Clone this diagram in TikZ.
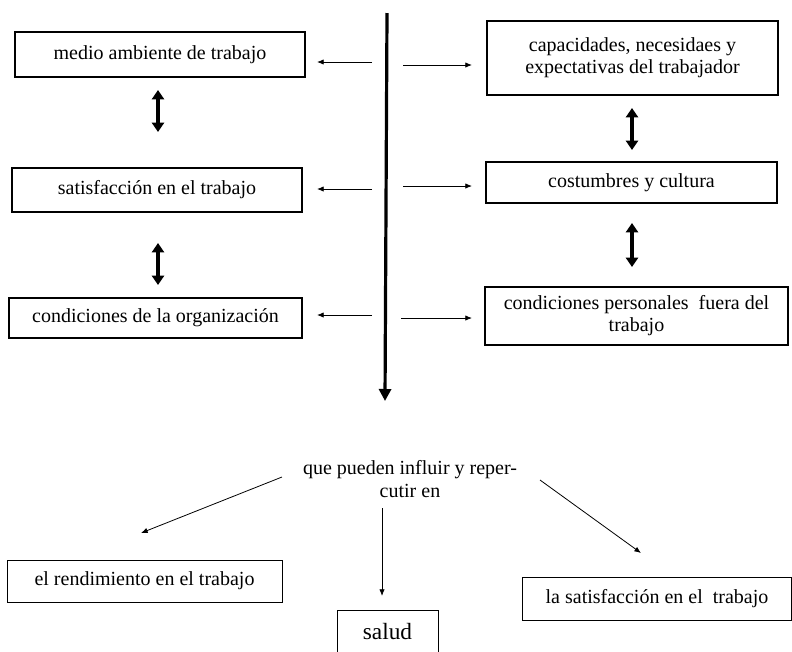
\documentclass[tikz,border=0pt]{standalone}
\usepackage{fontspec}
\setmainfont{Liberation Serif}
\usetikzlibrary{arrows.meta}
\begin{document}
\begin{tikzpicture}[x=0.75pt,y=-0.75pt,
  thickbox/.style={draw, line width=1.8pt, inner sep=0pt, align=center, font=\fontsize{15}{16.5}\selectfont},
  thinbox/.style={draw, line width=0.7pt, inner sep=0pt, align=center, font=\fontsize{15}{16.5}\selectfont},
  smallarrow/.style={line width=0.6pt, -{Latex[length=5pt,width=4pt]}},
  dblarrow/.style={line width=3pt, {Triangle[length=7pt,width=9pt]}-{Triangle[length=7pt,width=9pt]}},
  mainarrow/.style={line width=2.4pt, -{Triangle[length=9pt,width=9pt]}},
  plaintext/.style={align=center, inner sep=0pt, font=\fontsize{15}{17}\selectfont}]
\useasboundingbox (0,0) rectangle (792,651);
% left boxes
\node[thickbox, minimum width=217.5pt, minimum height=33.75pt] (L1) at (160,54.5) {medio ambiente de trabajo};
\node[thickbox, minimum width=217.5pt, minimum height=33pt] (L2) at (157,190) {satisfacción en el trabajo};
\node[thickbox, minimum width=219.75pt, minimum height=30pt] (L3) at (155.5,318) {condiciones de la organización};
% right boxes
\node[thickbox, minimum width=218.25pt, minimum height=55.5pt] (R1) at (632.5,58) {capacidades, necesidaes y\\expectativas del trabajador};
\node[thickbox, minimum width=218.25pt, minimum height=30.75pt] (R2) at (631.5,182.5) {costumbres y cultura};
\node[thickbox, minimum width=227.25pt, minimum height=43.5pt] (R3) at (636.5,316) {condiciones personales\ \ fuera del\\trabajo};
% double arrows
\coordinate (a1) at (158,90); \coordinate (a2) at (158,132);
\coordinate (a3) at (158,243); \coordinate (a4) at (158,285);
\coordinate (b1) at (632,108); \coordinate (b2) at (632,150);
\coordinate (b3) at (632,223); \coordinate (b4) at (632,267);
\draw[dblarrow] (a1) -- (a2);
\draw[dblarrow] (a3) -- (a4);
\draw[dblarrow] (b1) -- (b2);
\draw[dblarrow] (b3) -- (b4);
% main vertical line
\coordinate (top) at (387,13);
\coordinate (bot) at (385,401);
\draw[mainarrow] (top) -- (bot);
% small horizontal arrows
\coordinate (l1s) at (372,62); \coordinate (l1e) at (317,62);
\coordinate (l2s) at (372,189); \coordinate (l2e) at (317,189);
\coordinate (l3s) at (372,315); \coordinate (l3e) at (317,315);
\coordinate (r1s) at (403,65); \coordinate (r1e) at (472,65);
\coordinate (r2s) at (403,186); \coordinate (r2e) at (472,186);
\coordinate (r3s) at (401,318); \coordinate (r3e) at (472,318);
\draw[smallarrow] (l1s) -- (l1e);
\draw[smallarrow] (l2s) -- (l2e);
\draw[smallarrow] (l3s) -- (l3e);
\draw[smallarrow] (r1s) -- (r1e);
\draw[smallarrow] (r2s) -- (r2e);
\draw[smallarrow] (r3s) -- (r3e);
% bottom part
\node[plaintext] (T) at (410,479) {que pueden influir y reper-\\cutir en};
\node[thinbox, minimum width=206.25pt, minimum height=31.5pt] (B1) at (144.5,581) {el rendimiento en el trabajo};
\node[thinbox, minimum width=75.75pt, minimum height=31.5pt, font=\fontsize{17.5}{19}\selectfont] (B2) at (387.5,631.5) {salud};
\node[thinbox, minimum width=201.75pt, minimum height=32.25pt] (B3) at (657,598.5) {la satisfacción en el\ \ trabajo};
\coordinate (c1s) at (282,477); \coordinate (c1e) at (141,533);
\coordinate (c2s) at (382,508); \coordinate (c2e) at (382,596);
\coordinate (c3s) at (540,480); \coordinate (c3e) at (641,553);
\draw[smallarrow] (c1s) -- (c1e);
\draw[smallarrow] (c2s) -- (c2e);
\draw[smallarrow] (c3s) -- (c3e);
\end{tikzpicture}
\end{document}
